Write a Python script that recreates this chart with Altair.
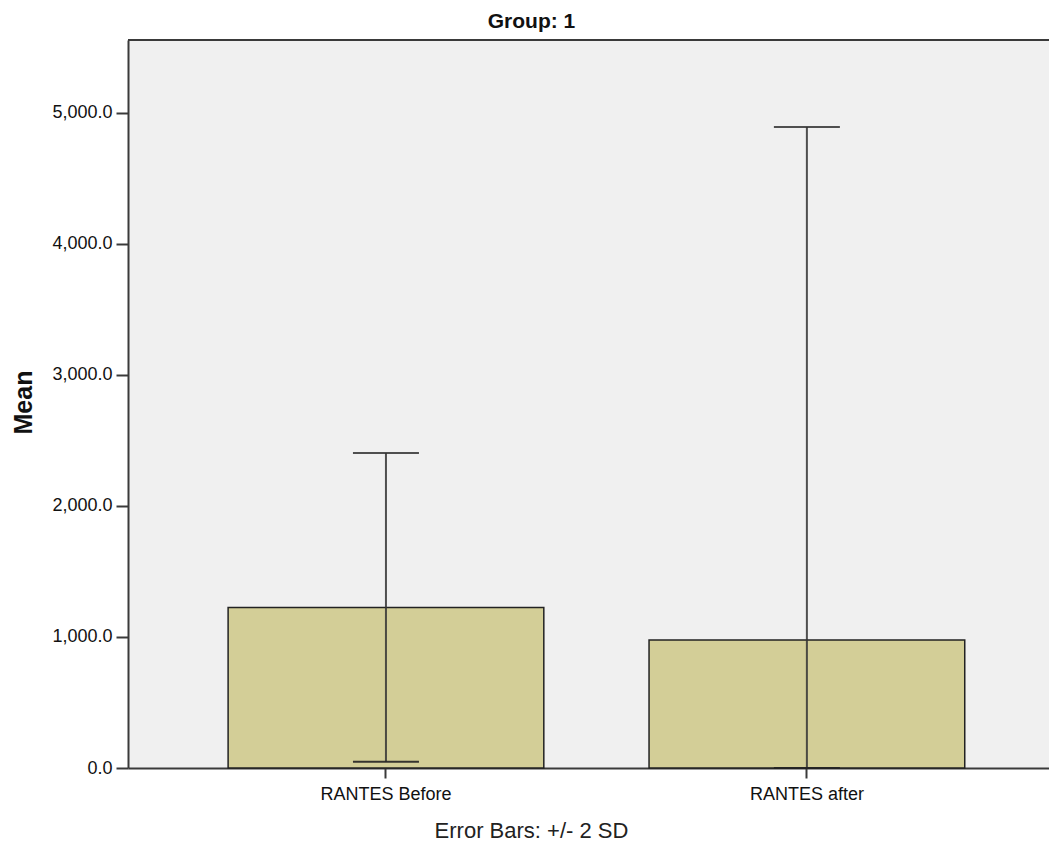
import altair as alt
import pandas as pd

# Data
categories = ["RANTES Before", "RANTES after"]
means = [1226, 977]
err_upper = [2405, 4893]   # mean + 2 SD
err_lower = [47, -2939]    # mean - 2 SD (clamped at axis floor)

df = pd.DataFrame({"cat": categories, "mean": means, "hi": err_upper, "lo": err_lower})

FONT = "Liberation Sans"
TXT = "#111111"
LINE = "#3a3a3a"

xscale = alt.Scale(paddingInner=0.25, paddingOuter=0.219, align=0.543)
yscale = alt.Scale(domain=[0, 5557], clamp=True, nice=False, zero=True)

xaxis = alt.Axis(
    title="Error Bars: +/- 2 SD", labelAngle=0, labelFontSize=18, labelFont=FONT,
    labelColor=TXT, labelBaseline="alphabetic", labelPadding=21,
    tickSize=10, tickColor=LINE, tickWidth=2, domainColor=LINE, domainWidth=2,
    titleFont=FONT, titleFontSize=22, titleFontWeight="normal", titleColor="#222222",
    titleX=403, titleY=69, titleAlign="center", titleBaseline="alphabetic",
)
yaxis = alt.Axis(
    title="Mean", values=[0, 1000, 2000, 3000, 4000, 5000], format=",.1f",
    labelFontSize=18, labelFont=FONT, labelColor=TXT, labelPadding=4,
    tickSize=12, tickColor=LINE, tickWidth=2, domainColor=LINE, domainWidth=2,
    grid=False, titleFont=FONT, titleFontSize=25, titleFontWeight="bold",
    titleColor=TXT, titleAngle=270, titleX=-105, titleY=362,
    titleAlign="center", titleBaseline="middle",
)

x = alt.X("cat:N", sort=categories, scale=xscale, axis=xaxis)

bars = alt.Chart(df).mark_bar(fill="#d3ce97", stroke="#222222", strokeWidth=1.5).encode(
    x=x,
    y=alt.Y("mean:Q", scale=yscale, axis=yaxis),
)

rule = alt.Chart(df).mark_rule(color="#333333", strokeWidth=2, opacity=0.85).encode(
    x=alt.X("cat:N", sort=categories, scale=xscale),
    y=alt.Y("lo:Q", scale=yscale, title="Mean"),
    y2="hi:Q",
)

cap_hi = alt.Chart(df).mark_tick(orient="horizontal", size=66, thickness=2, color="#333333", opacity=0.85).encode(
    x=alt.X("cat:N", sort=categories, scale=xscale),
    y=alt.Y("hi:Q", scale=yscale, title="Mean"),
)
cap_lo = alt.Chart(df).mark_tick(orient="horizontal", size=66, thickness=2, color="#222222", opacity=0.9).encode(
    x=alt.X("cat:N", sort=categories, scale=xscale),
    y=alt.Y("lo:Q", scale=yscale, title="Mean"),
)

# top frame line of the plot area (the right edge runs off the picture)
frame_top = alt.Chart(df).mark_rule(color=LINE, strokeWidth=2).encode(
    x=alt.value(0), x2=alt.value(921), y=alt.value(0)
)

chart = alt.layer(bars, rule, cap_hi, cap_lo, frame_top).properties(
    width=921,
    height=728,
    title=alt.Title("Group: 1", fontSize=21, fontWeight="bold", font=FONT,
                    anchor="middle", dx=-57, offset=7, color=TXT),
    autosize=alt.AutoSizeParams(type="none"),
    padding={"left": 120, "top": 32, "right": 0, "bottom": 74},
).configure_view(
    fill="#f0f0f0", strokeWidth=0,
)

chart.save("out.html", embed_options={"renderer": "svg", "actions": False})
